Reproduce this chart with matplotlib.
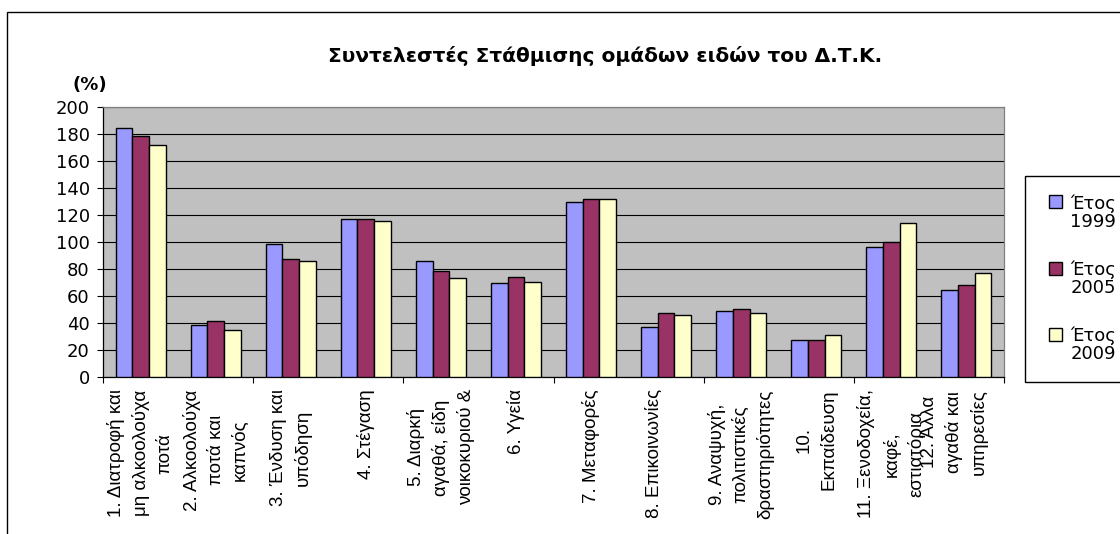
import matplotlib
matplotlib.use("Agg")
import matplotlib.pyplot as plt
import matplotlib.patches as mpatches
from matplotlib.legend_handler import HandlerPatch
import numpy as np

plt.rcParams["font.family"] = ["DejaVu Sans"]

# ---------------------------------------------------------------------------
# Data
# ---------------------------------------------------------------------------
categories = [
    "1. Διατροφή και\nμη αλκοολούχα\nποτά",
    "2. Αλκοολούχα\nποτά και\nκαπνός",
    "3. Ένδυση και\nυπόδηση",
    "4. Στέγαση",
    "5. Διαρκή\nαγαθά, είδη\nνοικοκυριού &",
    "6. Υγεία",
    "7. Μεταφορές",
    "8. Επικοινωνίες\n ",
    "9. Αναψυχή,\nπολιτιστικές\nδραστηριότητες",
    "10.\nΕκπαίδευση",
    "11. Ξενοδοχεία,\nκαφέ,\nεστιατόρια",
    "12. Άλλα\nαγαθά και\nυπηρεσίες\n ",
]
series_labels = ["Έτος\n1999", "Έτος\n2005", "Έτος\n2009"]
w1999 = [184.0, 38.1, 98.4, 116.4, 85.9, 69.1, 129.2, 37.1, 48.7, 26.8, 95.9, 64.0]
w2005 = [177.9, 41.1, 86.8, 116.4, 78.0, 74.0, 131.9, 47.5, 49.9, 26.8, 99.6, 67.9]
w2009 = [171.7, 34.7, 85.6, 115.1, 73.1, 70.4, 131.9, 46.0, 47.5, 30.8, 113.9, 76.8]
y_ticks = [0, 20, 40, 60, 80, 100, 120, 140, 160, 180, 200]

title = "Συντελεστές Στάθμισης ομάδων ειδών του Δ.Τ.Κ."
colors = ["#9999FF", "#993366", "#FFFFCC"]

W, H = 1120, 534
FS = 13
LABEL_FONT = ["Liberation Sans", "DejaVu Sans"]

fig = plt.figure(figsize=(W / 100, H / 100), dpi=100)
fig.patch.set_facecolor("white")

# chart border (only top/left edges fall inside the picture)
fig.patches.append(mpatches.Rectangle(
    (7 / W, -0.5), 1.5, 1.5 - 12 / H, transform=fig.transFigure,
    fill=False, edgecolor="black", linewidth=1.0, zorder=0))
# legend frame, runs off the right edge like in the source
fig.patches.append(mpatches.Rectangle(
    (1025 / W, 1 - 382 / H), 0.2, (382 - 176) / H, transform=fig.transFigure,
    fill=False, edgecolor="black", linewidth=1.0, zorder=0))

ax = fig.add_axes([103 / W, 1 - 376.7 / H, 901 / W, 270.2 / H])
ax.set_facecolor("#C0C0C0")

x = np.arange(len(categories))
bw = 1 / 4.5
bars = []
for i, (vals, lab, col) in enumerate(zip([w1999, w2005, w2009], series_labels, colors)):
    b = ax.bar(x + (i - 1) * bw, vals, width=bw, color=col, edgecolor="black",
               linewidth=1.0, label=lab, zorder=3)
    bars.append(b)

ax.set_xlim(-0.5, len(categories) - 0.5)
ax.set_ylim(0, 200)
ax.set_yticks(y_ticks)
ax.tick_params(axis="y", labelsize=FS, length=4.5, width=0.8, pad=5, colors="black")
ax.yaxis.grid(True, color="black", linewidth=0.8)
ax.set_axisbelow(True)

# category boundaries every 2 groups, labels at the centres
ax.set_xticks(np.arange(-0.5, len(categories), 2))
ax.set_xticklabels([])
ax.tick_params(axis="x", which="major", length=4, width=0.8)
ax.set_xticks(x, minor=True)
ax.set_xticklabels(categories, minor=True, rotation=90, ha="center", va="top",
                   multialignment="center", linespacing=1.5, fontsize=13.5,
                   family=LABEL_FONT)
ax.tick_params(axis="x", which="minor", length=0, pad=9)

for s in ("top", "right"):
    ax.spines[s].set_color("#808080")
for s in ("left", "bottom"):
    ax.spines[s].set_color("black")
for s in ax.spines.values():
    s.set_linewidth(0.9)

fig.text(605 / W, 1 - 62 / H, title, ha="center", va="baseline",
         fontsize=14.5, fontweight="bold")
fig.text(89.5 / W, 1 - 85 / H, "(%)", ha="center", va="center",
         fontsize=FS, fontweight="bold")


def _square(legend, orig_handle, xdescent, ydescent, width, height, fontsize):
    side = 0.72 * fontsize
    return mpatches.Rectangle((-xdescent + width - side, -ydescent + 0.62 * fontsize),
                              side, side)


handles = [b.patches[0] for b in bars]
leg = fig.legend(handles, series_labels, loc="upper left",
                 bbox_to_anchor=(1025 / W, 1 - 176 / H), borderaxespad=0,
                 fontsize=FS, frameon=False, borderpad=1.0, labelspacing=1.6,
                 handlelength=1.05, handleheight=0.7, handletextpad=0.45,
                 handler_map={mpatches.Rectangle: HandlerPatch(patch_func=_square)})
for t in leg.get_texts():
    t.set_multialignment("right")
    t.set_linespacing(1.05)

fig.savefig("out.png", dpi=100, facecolor="white")
